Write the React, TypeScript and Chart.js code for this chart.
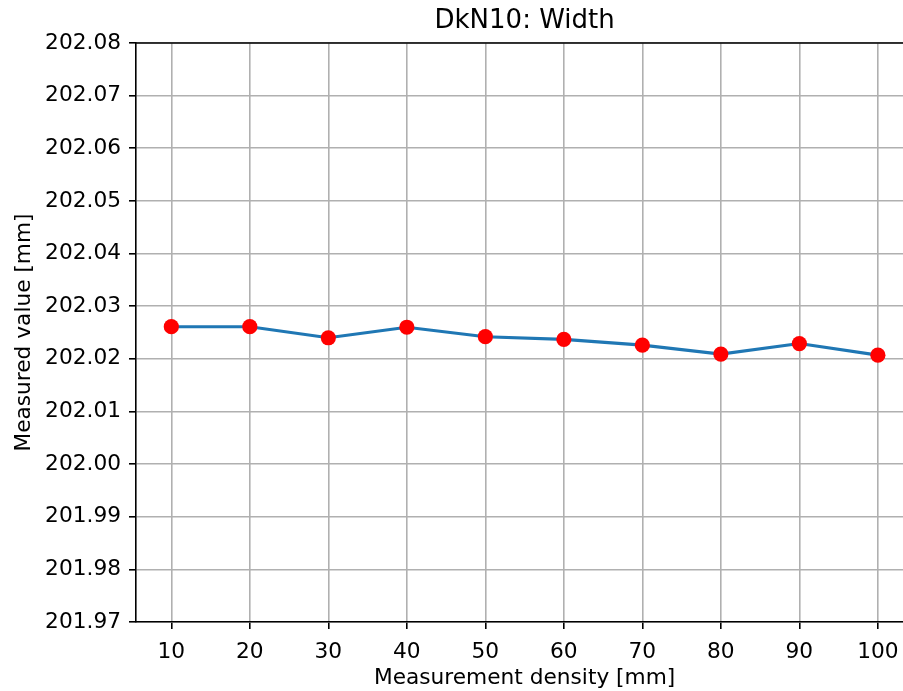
import React, { useEffect, useRef } from "react";
import { Chart, registerables } from "chart.js";

Chart.register(...registerables);

const titleText = "DkN10: Width";
const xTitle = "Measurement density [mm]";
const yTitle = "Measured value [mm]";
const densities = [10, 20, 30, 40, 50, 60, 70, 80, 90, 100];
const measured = [202.0261, 202.0261, 202.024, 202.026, 202.0242, 202.0237, 202.0226, 202.0209, 202.0229, 202.0207];
const xTicks = [10, 20, 30, 40, 50, 60, 70, 80, 90, 100];
const yTicks = [201.97, 201.98, 201.99, 202.0, 202.01, 202.02, 202.03, 202.04, 202.05, 202.06, 202.07, 202.08];

const FONT = "DejaVu Sans";
const FS = 21.7;

export default function App() {
  const ref = useRef<HTMLCanvasElement | null>(null);
  useEffect(() => {
    if (!ref.current) return;
    const decor = {
      id: "decor",
      afterDraw(chart: any) {
        const ctx = chart.ctx;
        const a = chart.chartArea;
        const xs = chart.scales.x;
        ctx.save();
        // top spine
        ctx.strokeStyle = "#000";
        ctx.lineWidth = 1.6;
        ctx.beginPath();
        ctx.moveTo(a.left - 0.8, a.top);
        ctx.lineTo(a.right + 2, a.top);
        ctx.stroke();
        const cx = xs.getPixelForValue(55);
        ctx.fillStyle = "#000";
        ctx.textAlign = "center";
        ctx.textBaseline = "middle";
        ctx.font = `26px '${FONT}'`;
        ctx.fillText(titleText, cx, 21);
        ctx.font = `${FS}px '${FONT}'`;
        ctx.fillText(xTitle, cx, 678);
        ctx.translate(24, (a.top + a.bottom) / 2);
        ctx.rotate(-Math.PI / 2);
        ctx.fillText(yTitle, 0, 0);
        ctx.restore();
      },
    };
    const chart = new Chart(ref.current, {
      type: "line",
      data: {
        datasets: [
          {
            data: densities.map((d, i) => ({ x: d, y: measured[i] })),
            borderColor: "#1f77b4",
            borderWidth: 3.1,
            pointBackgroundColor: "#ff0000",
            pointBorderColor: "#ff0000",
            pointRadius: 7.6,
            pointBorderWidth: 0,
            tension: 0,
          },
        ],
      },
      options: {
        responsive: false,
        animation: false,
        layout: { autoPadding: false, padding: { top: 43, left: 0, right: 0, bottom: 0 } },
        plugins: { legend: { display: false }, title: { display: false }, tooltip: { enabled: false } },
        scales: {
          x: {
            type: "linear",
            min: 5.5,
            max: 103.2,
            afterFit: (s: any) => {
              s.height = 69;
              s.paddingLeft = 0;
              s.paddingRight = 0;
            },
            afterBuildTicks: (s: any) => {
              s.ticks = xTicks.map((v) => ({ value: v }));
            },
            ticks: {
              color: "#000",
              font: { family: FONT, size: FS },
              padding: 10,
              maxRotation: 0,
              autoSkip: false,
              callback: (v: any) => String(v),
            },
            grid: { color: "#b0b0b0", lineWidth: 1.6, tickLength: 7, tickColor: "#000", drawTicks: true },
            border: { color: "#000", width: 1.6 },
          },
          y: {
            type: "linear",
            min: 201.97,
            max: 202.08,
            afterFit: (s: any) => {
              s.width = 136;
              s.paddingTop = 0;
              s.paddingBottom = 0;
            },
            afterBuildTicks: (s: any) => {
              s.ticks = yTicks.map((v) => ({ value: v }));
            },
            ticks: {
              color: "#000",
              font: { family: FONT, size: FS },
              padding: 8,
              autoSkip: false,
              callback: (v: any) => Number(v).toFixed(2),
            },
            grid: { color: "#b0b0b0", lineWidth: 1.6, tickLength: 7, tickColor: "#000", drawTicks: true },
            border: { color: "#000", width: 1.6 },
          },
        },
      },
      plugins: [decor],
    });
    return () => chart.destroy();
  }, []);
  return (
    <div style={{ position: "absolute", left: 0, top: 0, width: 903, height: 691, background: "#fff" }}>
      <canvas ref={ref} width={903} height={691} style={{ width: 903, height: 691, display: "block" }} />
    </div>
  );
}
